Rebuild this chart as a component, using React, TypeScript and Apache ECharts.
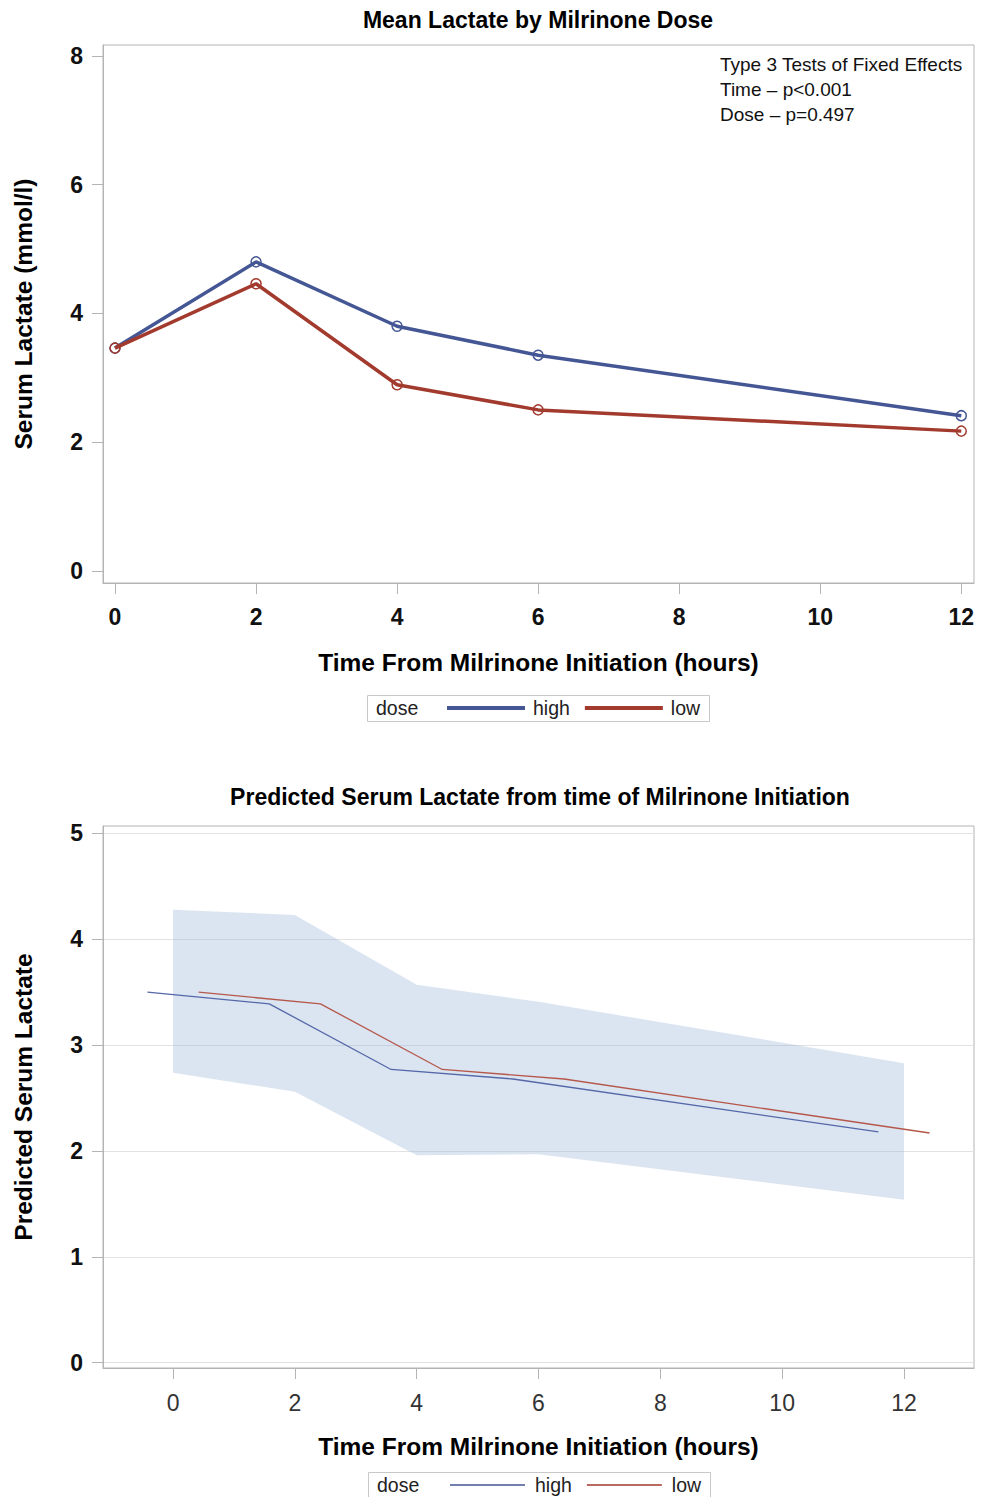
import React, { useEffect, useRef } from "react";
import * as echarts from "echarts";

// ---- data ----
const hours = [0, 2, 4, 6, 12];
const meanHigh = [3.46, 4.8, 3.8, 3.35, 2.41];
const meanLow = [3.46, 4.46, 2.89, 2.5, 2.17];

const predHigh = [3.5, 3.39, 2.77, 2.68, 2.18];
const predLow = [3.5, 3.39, 2.77, 2.68, 2.17];
const bandUpper = [4.28, 4.23, 3.57, 3.41, 2.83];
const bandLower = [2.74, 2.56, 1.96, 1.97, 1.54];
const dodge = 0.42;

const xTicks = [0, 2, 4, 6, 8, 10, 12];
const yTicksTop = [0, 2, 4, 6, 8];
const yTicksBottom = [0, 1, 2, 3, 4, 5];
const annotationLines = [
  "Type 3 Tests of Fixed Effects",
  "Time \u2013 p<0.001",
  "Dose \u2013 p=0.497",
];
const legendTitle = "dose";
const groups = ["high", "low"];

export default function App() {
  const ref = useRef<HTMLDivElement>(null);
  useEffect(() => {
    document.body.style.margin = "0";
    const chart = echarts.init(ref.current!, null, { renderer: "svg" });
    const font = "'Liberation Sans', Arial, Helvetica, sans-serif";
    const gray = "#b4b4b4";
    const blue = "#445694";
    const red = "#A23A2E";
    const groupColors = [blue, red];

    const axisCommon = {
      type: "value",
      axisLine: { show: true, onZero: false, lineStyle: { color: gray, width: 1 } },
      axisTick: { show: true, length: 11, lineStyle: { color: gray } },
    };
    const nameStyle = { fontSize: 24.5, fontWeight: "bold", color: "#000", fontFamily: font };

    const option: any = {
      animation: false,
      backgroundColor: "#fff",
      textStyle: { fontFamily: font },
      title: [
        {
          text: "Mean Lactate by Milrinone Dose",
          left: 538,
          top: 8,
          textAlign: "center",
          padding: 0,
          textStyle: { fontFamily: font, fontSize: 23, fontWeight: "bold", color: "#000" },
        },
        {
          text: "Predicted Serum Lactate from time of Milrinone Initiation",
          left: 540,
          top: 785,
          textAlign: "center",
          padding: 0,
          textStyle: { fontFamily: font, fontSize: 23, fontWeight: "bold", color: "#000" },
        },
      ],
      grid: [
        { left: 103, top: 45, width: 871, height: 538, show: true, borderColor: gray, borderWidth: 1, containLabel: false },
        { left: 103, top: 826, width: 871, height: 542, show: true, borderColor: gray, borderWidth: 1, containLabel: false },
      ],
      xAxis: [
        {
          ...axisCommon,
          gridIndex: 0,
          min: -0.17,
          max: 12.18,
          axisTick: { ...axisCommon.axisTick, customValues: xTicks },
          axisLabel: { customValues: xTicks, fontSize: 23, fontWeight: "bold", color: "#111", margin: 22, fontFamily: font },
          splitLine: { show: false },
          name: "Time From Milrinone Initiation (hours)",
          nameLocation: "middle",
          nameGap: 67,
          nameTextStyle: nameStyle,
        },
        {
          ...axisCommon,
          gridIndex: 1,
          min: -1.15,
          max: 13.15,
          axisTick: { ...axisCommon.axisTick, customValues: xTicks },
          axisLabel: { customValues: xTicks, fontSize: 23, color: "#333", margin: 23, fontFamily: font },
          splitLine: { show: false },
          name: "Time From Milrinone Initiation (hours)",
          nameLocation: "middle",
          nameGap: 66,
          nameTextStyle: nameStyle,
        },
      ],
      yAxis: [
        {
          ...axisCommon,
          gridIndex: 0,
          min: -0.19,
          max: 8.17,
          axisTick: { ...axisCommon.axisTick, customValues: yTicksTop },
          axisLabel: { customValues: yTicksTop, fontSize: 23, fontWeight: "bold", color: "#111", margin: 20, fontFamily: font },
          splitLine: { show: false },
          name: "Serum Lactate (mmol/l)",
          nameLocation: "middle",
          nameGap: 67,
          nameTextStyle: nameStyle,
        },
        {
          ...axisCommon,
          gridIndex: 1,
          min: -0.05,
          max: 5.07,
          axisTick: { ...axisCommon.axisTick, customValues: yTicksBottom },
          axisLabel: { customValues: yTicksBottom, fontSize: 23, fontWeight: "bold", color: "#111", margin: 20, fontFamily: font },
          splitLine: { show: true, lineStyle: { color: "#e2e2e2", width: 1 } },
          name: "Predicted Serum Lactate",
          nameLocation: "middle",
          nameGap: 67,
          nameTextStyle: nameStyle,
        },
      ],
      legend: [
        {
          left: 447,
          top: 698,
          padding: 0,
          itemWidth: 78,
          itemHeight: 4,
          itemGap: 15,
          itemStyle: { borderWidth: 0 },
          textStyle: { fontSize: 19.5, color: "#222", fontFamily: font, padding: [0, 0, 0, 3] },
          data: groups.map((g, i) => ({ name: g, icon: "rect", itemStyle: { color: groupColors[i], borderWidth: 0 } })),
          selectedMode: false,
        },
        {
          left: 450,
          top: 1475,
          padding: 0,
          itemWidth: 75,
          itemHeight: 1.5,
          itemGap: 15,
          itemStyle: { borderWidth: 0 },
          textStyle: { fontSize: 19.5, color: "#222", fontFamily: font, padding: [0, 0, 0, 5] },
          data: groups.map((g, i) => ({ name: g, icon: "rect", itemStyle: { color: groupColors[i], borderWidth: 0 } })),
          selectedMode: false,
        },
      ],
      graphic: [
        {
          type: "text",
          x: 720,
          y: 52,
          style: {
            text: annotationLines.join("\n"),
            font: `19px ${font}`,
            lineHeight: 25,
            fill: "#111",
          },
        },
        {
          type: "rect",
          shape: { x: 367.5, y: 695.5, width: 342, height: 26 },
          style: { fill: "none", stroke: "#c8c8c8", lineWidth: 1 },
        },
        {
          type: "text",
          x: 376,
          y: 708,
          style: { text: legendTitle, font: `19.5px ${font}`, fill: "#222", verticalAlign: "middle" },
        },
        {
          type: "rect",
          shape: { x: 368.5, y: 1472.5, width: 342, height: 30 },
          style: { fill: "none", stroke: "#c8c8c8", lineWidth: 1 },
        },
        {
          type: "text",
          x: 377,
          y: 1485,
          style: { text: legendTitle, font: `19.5px ${font}`, fill: "#222", verticalAlign: "middle" },
        },
      ],
      series: [
        {
          name: "high",
          type: "line",
          xAxisIndex: 0,
          yAxisIndex: 0,
          data: hours.map((h, i) => [h, meanHigh[i]]),
          symbol: "circle",
          symbolSize: 10,
          lineStyle: { width: 3.5, color: blue },
          itemStyle: { color: "rgba(255,255,255,0)", borderColor: blue, borderWidth: 1.5 },
          z: 3,
        },
        {
          name: "low",
          type: "line",
          xAxisIndex: 0,
          yAxisIndex: 0,
          data: hours.map((h, i) => [h, meanLow[i]]),
          symbol: "circle",
          symbolSize: 10,
          lineStyle: { width: 3.5, color: red },
          itemStyle: { color: "rgba(255,255,255,0)", borderColor: red, borderWidth: 1.5 },
          z: 4,
        },
        {
          name: "95% CL",
          type: "custom",
          xAxisIndex: 1,
          yAxisIndex: 1,
          data: hours.map((h, i) => [h, bandLower[i], bandUpper[i]]),
          encode: { x: 0, y: [1, 2] },
          z: 1,
          renderItem: (params: any, api: any) => {
            if (params.dataIndex !== 0) return null;
            const upperPts = hours.map((h, i) => api.coord([h, bandUpper[i]]));
            const lowerPts = hours.map((h, i) => api.coord([h, bandLower[i]])).reverse();
            return {
              type: "polygon",
              shape: { points: upperPts.concat(lowerPts) },
              style: { fill: "rgba(150,180,215,0.34)", stroke: "none" },
            };
          },
        },
        {
          name: "high",
          type: "line",
          xAxisIndex: 1,
          yAxisIndex: 1,
          data: hours.map((h, i) => [h - dodge, predHigh[i]]),
          symbol: "none",
          clip: false,
          color: blue,
          lineStyle: { width: 1.3, color: "#5467A8" },
          z: 3,
        },
        {
          name: "low",
          type: "line",
          xAxisIndex: 1,
          yAxisIndex: 1,
          data: hours.map((h, i) => [h + dodge, predLow[i]]),
          symbol: "none",
          clip: false,
          color: red,
          lineStyle: { width: 1.3, color: "#B5574B" },
          z: 3,
        },
      ],
    };

    chart.setOption(option);
    return () => chart.dispose();
  }, []);
  return <div ref={ref} style={{ width: 982, height: 1497 }} />;
}
